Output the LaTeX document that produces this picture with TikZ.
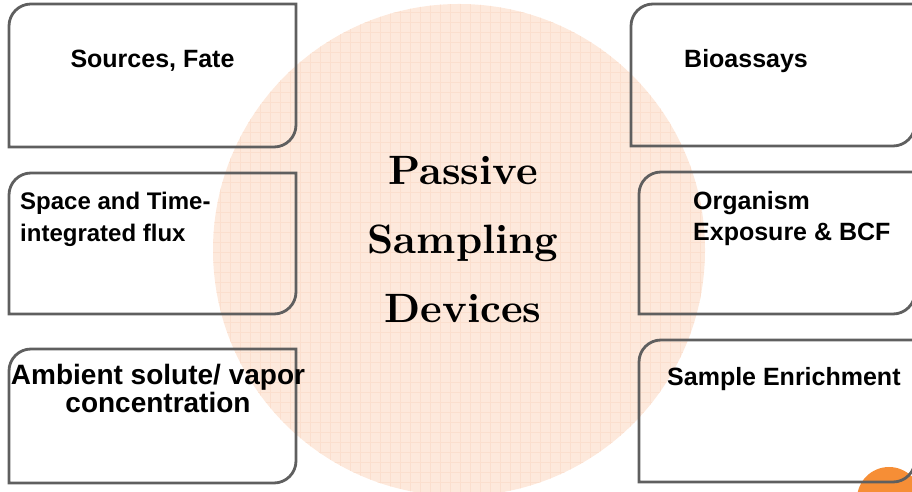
\documentclass[tikz,border=0pt]{standalone}
\usepackage{fontspec}
\setsansfont{Liberation Sans}
\newfontfamily\titlefont[Extension=.otf]{lmroman10-bold}
\usepackage{tikz}
\definecolor{FrameGray}{RGB}{95,95,95}
\definecolor{SoftPeach}{RGB}{253,233,220}
\definecolor{GridPeach}{RGB}{251,223,206}
\definecolor{SlideOrange}{RGB}{246,142,54}

\begin{document}
\begin{tikzpicture}[x=1pt, y=1pt,
    tile/.style={rectangle, minimum width=#1, inner sep=0pt, outer sep=0pt, anchor=north west},
    frame/.style={draw=FrameGray, line width=2.8pt},
    boxtext/.style={font=\sffamily\bfseries\fontsize{25}{30}\selectfont, inner sep=0pt, align=left},
    title/.style={font=\titlefont\fontsize{41}{69}\selectfont, inner sep=0pt, align=center, anchor=base}
]
\useasboundingbox (0,0) rectangle (912,492);
\clip (0,0) rectangle (912,492);

% background disc
\node[circle, fill=SoftPeach, minimum size=492pt, inner sep=0pt] (disc) at (459,242) {};
\begin{scope}
  \clip (disc.center) circle (246);
  \draw[GridPeach, line width=0.4pt, step=10] (200,0) grid (720,492);
\end{scope}
\node[circle, fill=SlideOrange, minimum size=64pt, inner sep=0pt] (page) at (889,-7) {};

% boxes
\node[tile=287pt, minimum height=143pt] (src) at (9,488) {};
\node[tile=287pt, minimum height=141pt] (flux) at (9,319) {};
\node[tile=287pt, minimum height=134pt] (amb) at (9,143) {};
\node[tile=284pt, minimum height=142pt] (bio) at (631,488) {};
\node[tile=276pt, minimum height=142pt] (org) at (639,320) {};
\node[tile=276pt, minimum height=142pt] (enr) at (639,152) {};

\foreach \b in {src,flux,amb,bio,org,enr}
  \draw[frame] (\b.south west) -- ([yshift=-22pt]\b.north west)
    arc[start angle=180, end angle=90, radius=22pt] -- (\b.north east)
    -- ([yshift=22pt]\b.south east) arc[start angle=0, end angle=-90, radius=22pt] -- cycle;

% labels (base = last line)
\node[boxtext, anchor=base] (srcT) at ([yshift=-64pt]src.north) {Sources, Fate};
\node[boxtext, anchor=base west, font=\sffamily\bfseries\fontsize{24}{32}\selectfont] (fluxT) at ([shift={(11pt,-69pt)}]flux.north west) {Space and Time-\\integrated flux};
\node[boxtext, anchor=base, align=center, font=\sffamily\bfseries\fontsize{28}{28}\selectfont] (ambT) at ([shift={(5.5pt,-64pt)}]amb.north) {Ambient solute/ vapor\\concentration};
\node[boxtext, anchor=base west] (bioT) at ([shift={(53pt,-64pt)}]bio.north west) {Bioassays};
\node[boxtext, anchor=base west, font=\sffamily\bfseries\fontsize{25}{31}\selectfont] (orgT) at ([shift={(54pt,-69pt)}]org.north west) {Organism\\Exposure \& BCF};
\node[boxtext, anchor=base west] (enrT) at ([shift={(28pt,-46pt)}]enr.north west) {Sample Enrichment};

\node[title] (psd) at (463,169) {Passive\\Sampling\\Devices};
\end{tikzpicture}
\end{document}
